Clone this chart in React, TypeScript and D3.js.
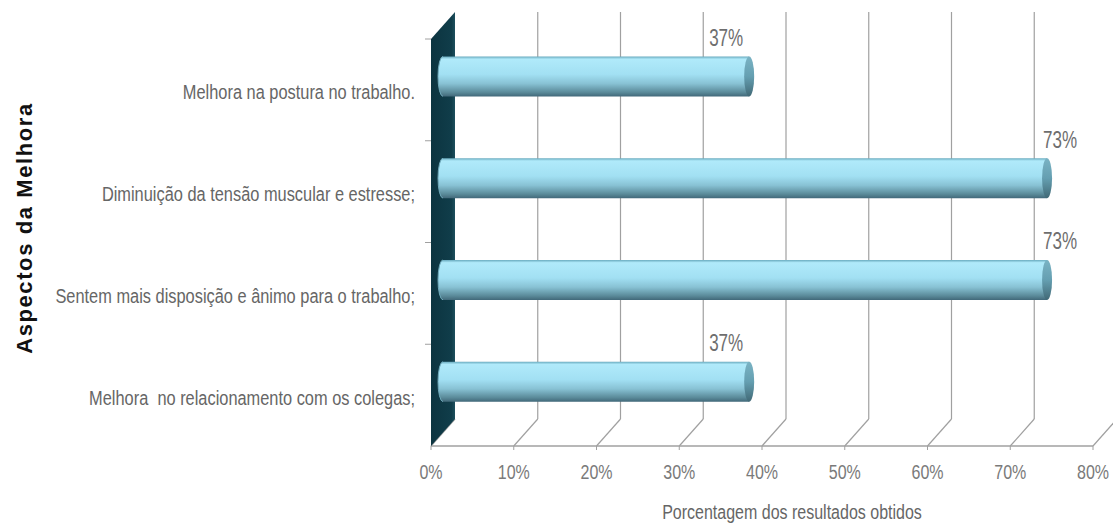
import React from "react";
import * as d3 from "d3";

const categories = [
  "Melhora na postura no trabalho.",
  "Diminuição da tensão muscular e estresse;",
  "Sentem mais disposição e ânimo para o trabalho;",
  "Melhora  no relacionamento com os colegas;",
];
const values = [0.37, 0.73, 0.73, 0.37];
const ticks = [0, 0.1, 0.2, 0.3, 0.4, 0.5, 0.6, 0.7, 0.8];
const xTitle = "Porcentagem dos resultados obtidos";
const yTitle = "Aspectos da Melhora";

const W = 1113;
const H = 525;
const DX = 24;
const DY = -27;
const FONT = "'Liberation Sans', Arial, sans-serif";

function NText(props: {
  x: number;
  y: number;
  size: number;
  sx: number;
  anchor: "start" | "middle" | "end";
  fill: string;
  children: React.ReactNode;
}) {
  return (
    <text
      transform={`translate(${props.x},${props.y}) scale(${props.sx},1)`}
      textAnchor={props.anchor}
      fontFamily={FONT}
      fontSize={props.size}
      fill={props.fill}
      style={{ whiteSpace: "pre" }}
    >
      {props.children}
    </text>
  );
}

export default function App() {
  const x = d3.scaleLinear().domain([0, 0.8]).range([431, 1093]);
  // value labels sit in the projected front plane (perspective spreads them)
  const xLabel = d3.scaleLinear().domain([0, 0.8]).range([383, 1125]);
  const y = d3.scaleBand<string>().domain(categories).range([39, 446]).padding(0);
  const fmt = d3.format(".0%");
  const top = 12;
  const floorY = y.range()[1];
  const barH = 40;
  const capRx = 5;

  return (
    <svg width={W} height={H} style={{ position: "absolute", left: 0, top: 0, background: "#fff" }}>
      <defs>
        <linearGradient id="barGrad" x1="0" y1="0" x2="0" y2="1">
          <stop offset="0" stopColor="#66a8bc" />
          <stop offset="0.07" stopColor="#b0eafa" />
          <stop offset="0.45" stopColor="#a2e0f3" />
          <stop offset="0.68" stopColor="#88c2d4" />
          <stop offset="0.9" stopColor="#5a8a99" />
          <stop offset="1" stopColor="#42697a" />
        </linearGradient>
        <linearGradient id="capGrad" x1="0" y1="0" x2="0" y2="1">
          <stop offset="0" stopColor="#7ab3c4" />
          <stop offset="0.5" stopColor="#659fb1" />
          <stop offset="1" stopColor="#416976" />
        </linearGradient>
        <linearGradient id="wallGrad" x1="0" y1="0" x2="1" y2="0">
          <stop offset="0" stopColor="#0c3440" />
          <stop offset="0.85" stopColor="#103d4a" />
          <stop offset="1" stopColor="#1d4f5d" />
        </linearGradient>
      </defs>

      {/* back gridlines and floor diagonals */}
      {ticks.map((t, i) => (
        <g key={"g" + i}>
          {i > 0 && (
            <line x1={x(t) + DX} x2={x(t) + DX} y1={top} y2={floorY + DY} stroke="#a0a0a0" strokeWidth={1.2} />
          )}
          <line x1={x(t)} y1={floorY} x2={x(t) + DX} y2={floorY + DY} stroke="#a0a0a0" strokeWidth={1.2} />
          <line x1={x(t)} y1={floorY} x2={x(t)} y2={floorY + 4} stroke="#a0a0a0" strokeWidth={1} />
        </g>
      ))}
      {/* front floor line */}
      <line x1={x(0)} x2={x(0.8)} y1={floorY} y2={floorY} stroke="#a0a0a0" strokeWidth={1.5} />

      {/* left wall */}
      <path
        d={`M${x(0)},${top - DY} L${x(0) + DX},${top} L${x(0) + DX},${floorY + DY} L${x(0)},${floorY} Z`}
        fill="url(#wallGrad)"
      />
      {/* category ticks on wall */}
      {categories.map((c, i) => (
        <line key={"t" + i} x1={x(0) - 6} x2={x(0)} y1={y(c)!} y2={y(c)!} stroke="#a0a0a0" strokeWidth={1} />
      ))}

      {/* bars */}
      {categories.map((c, i) => {
        const cy = y(c)! + y.bandwidth() / 2 + DY / 2;
        const x0 = x(0) + DX / 2;
        const x1 = x(values[i]) + DX / 2;
        const yt = cy - barH / 2;
        return (
          <g key={"b" + i}>
            <path
              d={`M${x0},${yt} L${x1},${yt} L${x1},${yt + barH} L${x0},${yt + barH} A${capRx},${barH / 2} 0 0 1 ${x0},${yt} Z`}
              fill="url(#barGrad)"
            />
            <path
              d={`M${x0},${yt} A${capRx},${barH / 2} 0 0 0 ${x0},${yt + barH}`}
              fill="none"
              stroke="#6fa9ba"
              strokeWidth={1}
            />
            <ellipse cx={x1} cy={cy} rx={capRx} ry={barH / 2} fill="url(#capGrad)" />
          </g>
        );
      })}

      {/* value labels */}
      {categories.map((c, i) => (
        <NText
          key={"v" + i}
          x={xLabel(values[i])}
          y={y(c)! + y.bandwidth() / 2 - 44}
          size={23}
          sx={0.74}
          anchor="middle"
          fill="#6e6e6e"
        >
          {fmt(values[i])}
        </NText>
      ))}

      {/* category labels */}
      {categories.map((c, i) => (
        <NText
          key={"c" + i}
          x={415}
          y={y(c)! + y.bandwidth() / 2 + 9.5}
          size={21}
          sx={0.78}
          anchor="end"
          fill="#666666"
        >
          {c}
        </NText>
      ))}

      {/* tick labels */}
      {ticks.map((t, i) => (
        <NText key={"x" + i} x={x(t)} y={floorY + 33} size={20} sx={0.8} anchor="middle" fill="#7a7a7a">
          {fmt(t)}
        </NText>
      ))}

      {/* axis titles */}
      <NText x={792} y={519} size={20} sx={0.8} anchor="middle" fill="#666666">
        {xTitle}
      </NText>
      <text
        transform={`translate(32,228) rotate(-90)`}
        textAnchor="middle"
        fontFamily={FONT}
        fontWeight="bold"
        fontSize={22}
        letterSpacing={1.6}
        fill="#111"
      >
        {yTitle}
      </text>
    </svg>
  );
}
